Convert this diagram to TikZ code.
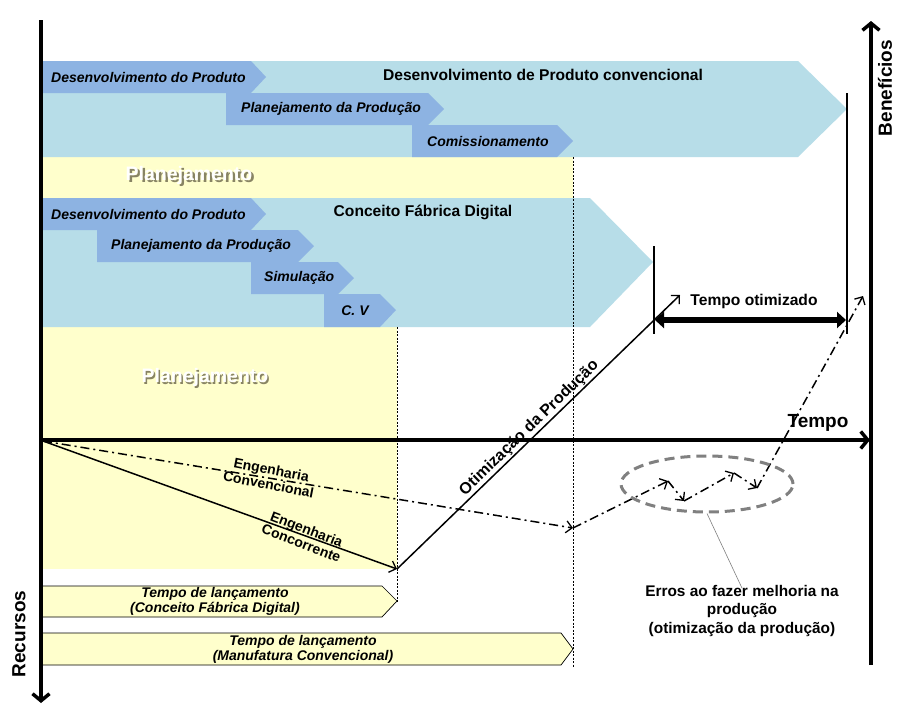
\documentclass[tikz,border=0pt]{standalone}
\usepackage{fontspec}
\setmainfont{Liberation Sans}
\usetikzlibrary{arrows.meta,shapes.geometric}
\definecolor{chevlight}{HTML}{B7DDE8}
\definecolor{chevdark}{HTML}{8DB3E2}
\definecolor{paleyel}{HTML}{FFFFCC}
\definecolor{ellgray}{HTML}{808080}
\definecolor{shadowcol}{HTML}{3A3320}
\tikzset{
  bigchev/.style={fill=chevlight},
  smallchev/.style={fill=chevdark},
  yelbox/.style={fill=paleyel},
  launchbox/.style={fill=paleyel, draw=black, line width=0.7pt},
  phasetxt/.style={inner sep=0pt, anchor=west, font=\bfseries\itshape\fontsize{14}{16}\selectfont},
  headtxt/.style={inner sep=0pt, font=\bfseries\fontsize{15.6}{18}\selectfont},
  axistxt/.style={inner sep=0pt, font=\bfseries\fontsize{19}{22}\selectfont},
  plantxt/.style={inner sep=0pt, font=\bfseries\fontsize{19.5}{22}\selectfont},
  launchtxt/.style={inner sep=0pt, align=center, font=\bfseries\itshape\fontsize{14}{15}\selectfont},
  engtxt/.style={inner sep=0pt, align=center, font=\bfseries\fontsize{14}{15}\selectfont},
  axisarrow/.style={line width=4pt, -{Straight Barb[length=7pt,width=17pt,line width=3.5pt]}},
  guide/.style={dash pattern=on 2pt off 1.5pt, line width=0.6pt},
  tickline/.style={line width=2pt},
  solidarr/.style={line width=1.5pt, -{Straight Barb[length=6pt,width=12pt,line width=1.3pt]}},
  dasharr/.style={line width=1.5pt, dash pattern=on 9pt off 4pt on 2pt off 4pt, -{Straight Barb[length=6pt,width=12pt,line width=1.3pt]}},
  optarrow/.style={line width=6pt, {Triangle[length=9pt,width=16pt]}-{Triangle[length=9pt,width=16pt]}},
}
\begin{document}
\begin{tikzpicture}[x=1pt,y=-1pt]
\useasboundingbox (0,0) rectangle (903,715);
\fill[white] (0,0) rectangle (903,715);

% yellow planning areas
\fill[yelbox] (43,157) rectangle (573,198);
\fill[yelbox] (43,327) rectangle (397,569);

% conventional development chevrons
\fill[bigchev] (43,61) -- (798,61) -- (847,109) -- (798,157) -- (43,157) -- cycle;
\fill[smallchev] (43,61) -- (251,61) -- (266,77) -- (251,93) -- (43,93) -- cycle;
\fill[smallchev] (226,93) -- (428,93) -- (444,109) -- (428,125) -- (226,125) -- cycle;
\fill[smallchev] (412,125) -- (557,125) -- (573,141) -- (557,157) -- (412,157) -- cycle;
\node[phasetxt] (t1a) at (51,77) {Desenvolvimento do Produto};
\node[phasetxt] (t1b) at (241,109) {Planejamento da Produção};
\node[phasetxt] (t1c) at (427,141) {Comissionamento};
\node[headtxt] (h1) at (543,75) {Desenvolvimento de Produto convencional};

% digital factory chevrons
\fill[bigchev] (43,198) -- (590,198) -- (653,262) -- (590,327) -- (43,327) -- cycle;
\fill[smallchev] (43,198) -- (251,198) -- (266,214) -- (251,230) -- (43,230) -- cycle;
\fill[smallchev] (97,230) -- (298,230) -- (314,246) -- (298,262) -- (97,262) -- cycle;
\fill[smallchev] (251,262) -- (338,262) -- (354,278) -- (338,294) -- (251,294) -- cycle;
\fill[smallchev] (324,294) -- (380,294) -- (396,310) -- (380,327) -- (324,327) -- cycle;
\node[phasetxt] (t2a) at (51,214) {Desenvolvimento do Produto};
\node[phasetxt] (t2b) at (111,246) {Planejamento da Produção};
\node[phasetxt] (t2c) at (264,278) {Simulação};
\node[phasetxt, anchor=center] (t2d) at (355,311) {C. V};
\node[headtxt] (h2) at (423,212) {Conceito Fábrica Digital};

% Planejamento labels with shadow
\node[plantxt, text=shadowcol, opacity=0.6] (plsa) at (191.5,177.5) {Planejamento};
\node[plantxt, text=shadowcol, opacity=0.6] (plsb) at (206.5,379.5) {Planejamento};
\node[plantxt, text=white] (plan1) at (189,175) {Planejamento};
\node[plantxt, text=white] (plan2) at (205,377) {Planejamento};

% guide lines
\coordinate (g1t) at (573,157); \coordinate (g1b) at (573,667);
\coordinate (g2t) at (397,327); \coordinate (g2b) at (397,603);
\draw[guide] (g1t) -- (g1b);
\draw[guide] (g2t) -- (g2b);

% launch time boxes
\filldraw[launchbox] (41,586) -- (382,586) -- (397,601) -- (382,617) -- (41,617);
\filldraw[launchbox] (41,633) -- (561,633) -- (573,649) -- (561,665) -- (41,665);
\node[launchtxt] (lb1) at (215,601) {Tempo de lançamento\\(Conceito Fábrica Digital)};
\node[launchtxt] (lb2) at (303,649) {Tempo de lançamento\\(Manufatura Convencional)};

% tick lines for optimized time
\coordinate (k1t) at (654,246); \coordinate (k1b) at (654,334);
\coordinate (k2t) at (847,93); \coordinate (k2b) at (847,334);
\draw[tickline] (k1t) -- (k1b);
\draw[tickline] (k2t) -- (k2b);
\coordinate (oa) at (655,320); \coordinate (ob) at (846,320);
\draw[optarrow] (oa) -- (ob);
\node[headtxt] (topt) at (754,301) {Tempo otimizado};

% curves
\coordinate (s0) at (43,441);
\coordinate (s1) at (397,569);
\coordinate (s2) at (680,295);
\draw[solidarr] (s0) -- (s1);
\draw[solidarr] (s1) -- node[pos=0.49, sloped, above=1pt, inner sep=0pt, font=\bfseries\fontsize{16}{18}\selectfont] (otim) {Otimização da Produção} (s2);

\coordinate (d1) at (573,528);
\coordinate (d2) at (668,481);
\coordinate (d3) at (684,501);
\coordinate (d4) at (734,473);
\coordinate (d5) at (757,488);
\coordinate (d6) at (863,296);
\draw[dasharr] (s0) -- (d1);
\draw[dasharr] (d1) -- (d2);
\draw[dasharr] (d2) -- (d3);
\draw[dasharr] (d3) -- (d4);
\draw[dasharr] (d4) -- (d5);
\draw[dasharr] (d5) -- (d6);

\node[engtxt, rotate=-11] (engconv) at (270,477) {Engenharia\\Convencional};
\node[engtxt, rotate=-21] (engconc) at (304,536) {Engenharia\\Concorrente};

% error ellipse
\node[ellipse, draw=ellgray, line width=3pt, dash pattern=on 10pt off 6pt, minimum width=172pt, minimum height=56pt, inner sep=0pt] (errell) at (707,484) {};
\node[inner sep=0pt, align=center, font=\bfseries\fontsize{15.4}{18.5}\selectfont] (errlab) at (742,611) {Erros ao fazer melhoria na\\produção\\(otimização da produção)};
\draw[gray, line width=0.6pt] (errell.south) -- ([yshift=-3pt]errlab.north);

% axes
\coordinate (ltop) at (41,20); \coordinate (lbot) at (41,703);
\coordinate (tl) at (41,440); \coordinate (tr) at (870,440);
\coordinate (rbot) at (871,665); \coordinate (rtop) at (871,21);
\draw[axisarrow] (ltop) -- (lbot);
\draw[axisarrow] (tl) -- (tr);
\draw[axisarrow] (rbot) -- (rtop);
\node[axistxt] (tempo) at (818,423) {Tempo};
\node[axistxt, rotate=90] (benef) at (885,88) {Benefícios};
\node[axistxt, rotate=90] (recur) at (19,634) {Recursos};
\end{tikzpicture}
\end{document}
